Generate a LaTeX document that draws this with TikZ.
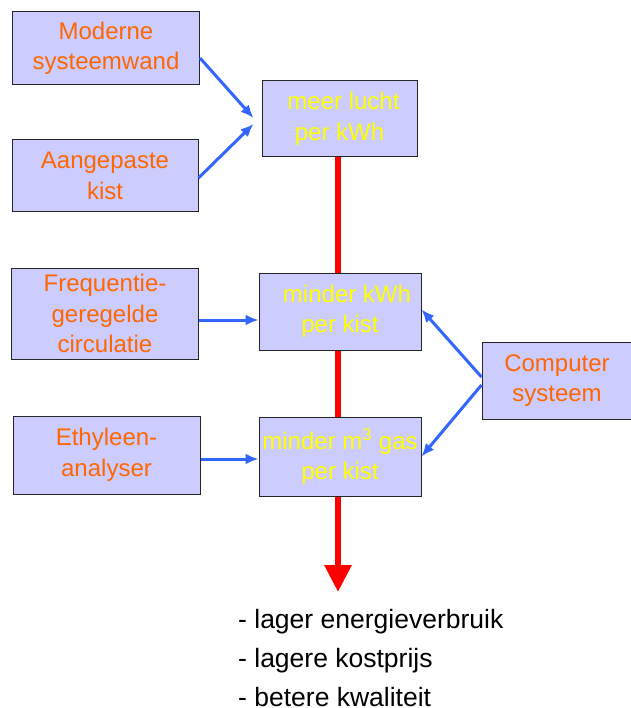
\documentclass[tikz,border=0pt]{standalone}
\usepackage{fontspec}
\setmainfont{Liberation Sans}
\usetikzlibrary{arrows.meta,positioning,calc}
\definecolor{boxfill}{RGB}{204,204,255}
\definecolor{boxtxt}{RGB}{255,102,0}
\definecolor{restxt}{RGB}{255,255,0}
\definecolor{arrblue}{RGB}{51,102,255}

\begin{document}
\begin{tikzpicture}[
  x=1pt,y=-1pt,
  font=\fontsize{24}{30.5}\selectfont,
  cause/.style={draw=black!85,line width=1pt,fill=boxfill,text=boxtxt,
                align=center,inner sep=2pt},
  effect/.style={cause,text=restxt,minimum width=162pt,minimum height=78pt},
  arr/.style={-{Latex[length=13pt,width=11pt]},arrblue,line width=3pt},
  flow/.style={-{Triangle[length=27pt,width=26pt]},red,line width=6pt}
]
\useasboundingbox (0,0) rectangle (630,708);
% oorzaken links
\node[cause,minimum width=187pt,minimum height=73pt] (mod) at (106,48.5) {Moderne\\systeemwand};
\node[cause,minimum width=186pt,minimum height=72pt] (aan) at (105,176) {Aangepaste\\kist};
\node[cause,minimum width=187pt,minimum height=91pt] (freq) at (105,313.5) {Frequentie-\\geregelde\\circulatie};
\node[cause,minimum width=187pt,minimum height=78pt] (eth) at (106.5,455) {Ethyleen-\\analyser};
\node[cause,minimum width=150pt,minimum height=77pt] (comp) at (557,380.5) {Computer\\systeem};
% effecten midden
\coordinate (out) at (338,592);
\draw[flow] (338,157) -- (out);
\node[effect,minimum width=155pt,minimum height=76pt] (lucht) at (339.5,119) {\hspace*{8pt}meer lucht\\per kWh};
\node[effect,minimum height=77pt] (kwh) at (340,311.5) {\hspace*{14pt}minder kWh\\per kist};
\node[effect,minimum height=79pt] (gas) at (340,456.5) {minder m\textsuperscript{3} gas\\per kist};
% pijlen
\draw[arr] ([yshift=-9.5pt]mod.east) -- ([shift={(-8,-1)}]lucht.west);
\draw[arr] ([yshift=-2pt]aan.east) -- ([shift={(-8,5)}]lucht.west);
\draw[arr] ([yshift=-6.5pt]freq.east) -- ([yshift=-6.5pt]freq.east -| kwh.west);
\draw[arr] ([yshift=-4pt]eth.east) -- ([yshift=-4pt]eth.east -| gas.west);
\draw[arr] ([yshift=3.5pt]comp.west) -- ([yshift=2pt]kwh.east);
\draw[arr] ([yshift=-4.5pt]comp.west) -- (gas.east);
% resultaat
\node[anchor=base west,inner sep=0pt,align=left,font=\fontsize{26.5}{39}\selectfont] (res) at (238,706)
  {- lager energieverbruik\\- lagere kostprijs\\- betere kwaliteit};
\end{tikzpicture}
\end{document}
